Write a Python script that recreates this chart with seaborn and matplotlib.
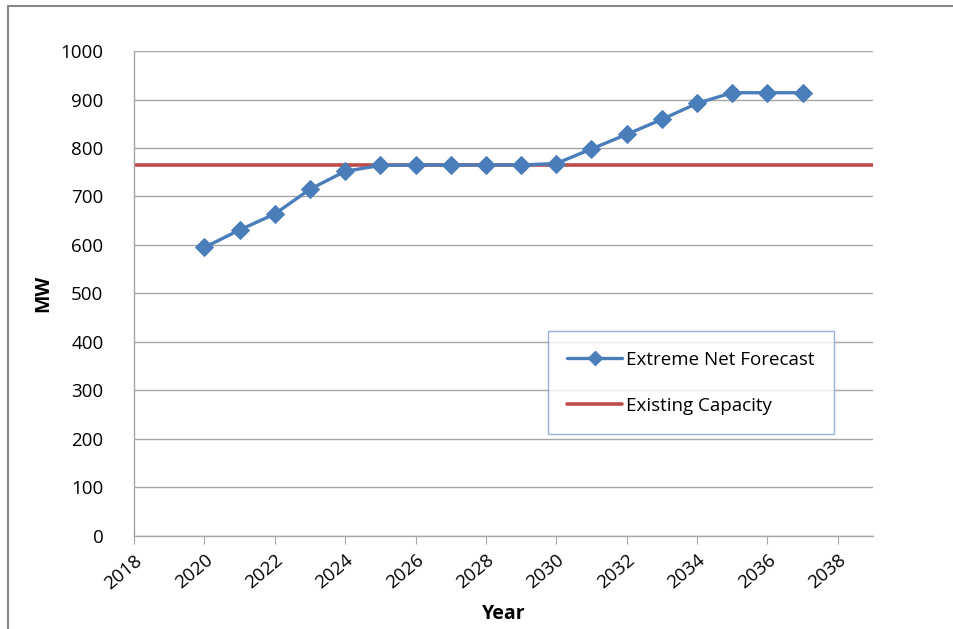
import numpy as np
import pandas as pd
import seaborn as sns
import matplotlib.pyplot as plt
from matplotlib.lines import Line2D

years = [2020, 2021, 2022, 2023, 2024, 2025, 2026, 2027, 2028, 2029,
         2030, 2031, 2032, 2033, 2034, 2035, 2036, 2037]
forecast_mw = [595, 631, 664, 715, 752, 764, 765, 765, 765, 765,
               768, 798, 828, 859, 892, 914, 914, 914]
existing_capacity = 765
x_ticks = list(range(2018, 2039, 2))
y_ticks = list(range(0, 1001, 100))

blue = '#4a7ebb'
red = '#be4b48'

sns.set_style('white')
plt.rcParams['font.family'] = ['Open Sans', 'DejaVu Sans']
plt.rcParams['text.color'] = 'black'
plt.rcParams['axes.labelcolor'] = 'black'
plt.rcParams['xtick.color'] = 'black'
plt.rcParams['ytick.color'] = 'black'

df = pd.DataFrame({'Year': years, 'MW': forecast_mw})

fig = plt.figure(figsize=(9.54, 6.29), dpi=100)
ax = fig.add_axes([0.1405, 0.1479, 0.7745, 0.771])

sns.lineplot(data=df, x='Year', y='MW', ax=ax, color=blue, linewidth=2.4,
             marker='D', markersize=9, markeredgecolor=blue, zorder=3)
ax.axhline(existing_capacity, color=red, linewidth=2.6, zorder=2)

ax.set_xlim(2018, 2039)
ax.set_ylim(0, 1000)
ax.set_xticks(x_ticks)
ax.set_yticks(y_ticks)
ax.set_xticklabels([str(t) for t in x_ticks], rotation=40, ha='right',
                   rotation_mode='anchor', fontsize=13.5)
ax.set_yticklabels([str(t) for t in y_ticks], fontsize=13.5)
ax.grid(axis='y', color='#a6a6a6', linewidth=1)
ax.set_axisbelow(True)

for s in ['top', 'right']:
    ax.spines[s].set_visible(False)
for s in ['left', 'bottom']:
    ax.spines[s].set_color('#a6a6a6')
    ax.spines[s].set_linewidth(1)
ax.tick_params(axis='x', length=6, color='#a6a6a6', direction='out', pad=5,
               bottom=True, labelcolor='black')
ax.tick_params(axis='y', length=0, pad=22, labelcolor='black')

ax.set_xlabel('Year', fontsize=14, fontweight='bold', labelpad=8, color='black')
ax.set_ylabel('MW', fontsize=14, fontweight='bold', labelpad=5, color='black')

handles = [
    Line2D([0], [0], color=blue, linewidth=2.4, marker='D', markersize=7),
    Line2D([0], [0], color=red, linewidth=2.6),
]
leg = ax.legend(handles, ['Extreme Net Forecast', 'Existing Capacity'],
                loc='upper left', bbox_to_anchor=(0.56, 0.423),
                fontsize=13.5, frameon=True, fancybox=False,
                borderpad=1.05, labelspacing=1.5, handlelength=2.9,
                handletextpad=0.2, borderaxespad=0)
leg.get_frame().set_edgecolor('#7f9fcf')
leg.get_frame().set_linewidth(1)
for t in leg.get_texts():
    t.set_color('black')

# outer chart border (left and top edges only)
fig.add_artist(Line2D([0.0085, 0.0085], [0, 0.991], color='#888888',
                      linewidth=1.5, transform=fig.transFigure))
fig.add_artist(Line2D([0.0085, 1], [0.991, 0.991], color='#888888',
                      linewidth=1.5, transform=fig.transFigure))

fig.savefig('out.png', dpi=100)
